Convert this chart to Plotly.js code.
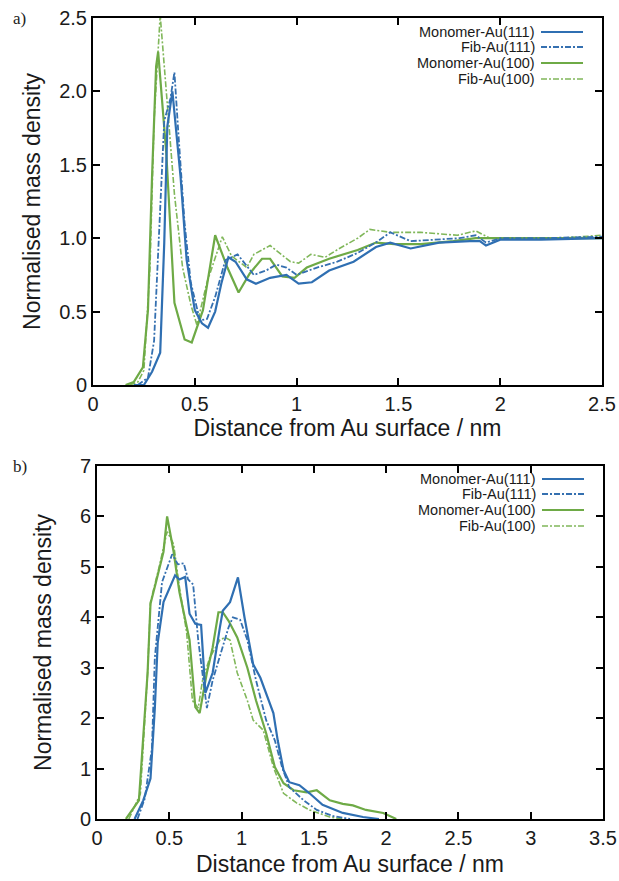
<!DOCTYPE html>
<html>
<head>
<meta charset="utf-8">
<script src="https://cdn.plot.ly/plotly-3.0.1.min.js"></script>
<style>
html,body{margin:0;padding:0;background:#fff;}
#chart{width:619px;height:881px;}
</style>
</head>
<body>
<div id="chart"></div>
<script>
// ---------- Series names ----------
const seriesNames = ["Monomer-Au(111)", "Fib-Au(111)", "Monomer-Au(100)", "Fib-Au(100)"];

// ---------- Panel a ----------
const aMono111X = [0.20, 0.25, 0.29, 0.33, 0.35, 0.365, 0.39, 0.43, 0.46, 0.50, 0.535, 0.565, 0.60, 0.63, 0.665, 0.70, 0.755, 0.80, 0.87, 0.95, 1.01, 1.075, 1.16, 1.28, 1.39, 1.46, 1.56, 1.70, 1.85, 1.90, 1.93, 2.0, 2.2, 2.5];
const aMono111Y = [0, 0, 0.09, 0.22, 0.97, 1.76, 2.0, 1.42, 0.85, 0.51, 0.42, 0.39, 0.50, 0.69, 0.87, 0.84, 0.72, 0.69, 0.73, 0.75, 0.69, 0.70, 0.78, 0.84, 0.94, 0.97, 0.93, 0.97, 0.98, 0.98, 0.95, 0.99, 0.99, 1.0];

const aFib111X = [0.22, 0.27, 0.30, 0.33, 0.35, 0.38, 0.40, 0.42, 0.45, 0.48, 0.525, 0.56, 0.60, 0.65, 0.71, 0.79, 0.85, 0.90, 0.95, 1.0, 1.1, 1.2, 1.3, 1.4, 1.46, 1.56, 1.7, 1.8, 1.88, 1.93, 2.0, 2.2, 2.5];
const aFib111Y = [0, 0.05, 0.3, 1.2, 1.8, 1.95, 2.13, 1.7, 1.1, 0.7, 0.44, 0.45, 0.6, 0.85, 0.89, 0.75, 0.78, 0.82, 0.80, 0.75, 0.80, 0.84, 0.90, 0.98, 1.04, 0.98, 0.99, 1.0, 1.02, 0.97, 1.0, 1.0, 1.01];

const aMono100X = [0.16, 0.20, 0.245, 0.27, 0.29, 0.31, 0.32, 0.36, 0.40, 0.45, 0.485, 0.54, 0.60, 0.66, 0.715, 0.77, 0.83, 0.87, 0.93, 0.99, 1.05, 1.16, 1.30, 1.39, 1.48, 1.61, 1.77, 1.88, 2.1, 2.5];
const aMono100Y = [0, 0.02, 0.12, 0.51, 1.42, 2.17, 2.27, 1.58, 0.56, 0.31, 0.29, 0.51, 1.02, 0.80, 0.63, 0.76, 0.86, 0.86, 0.74, 0.73, 0.80, 0.86, 0.92, 0.97, 0.96, 0.96, 0.98, 1.0, 1.0, 1.0];

const aFib100X = [0.18, 0.22, 0.25, 0.28, 0.30, 0.33, 0.36, 0.40, 0.44, 0.48, 0.51, 0.56, 0.635, 0.68, 0.755, 0.79, 0.87, 0.93, 0.97, 1.01, 1.07, 1.14, 1.21, 1.30, 1.36, 1.46, 1.61, 1.79, 1.88, 1.95, 2.29, 2.5];
const aFib100Y = [0, 0.02, 0.1, 0.8, 1.8, 2.52, 2.0, 1.3, 0.8, 0.55, 0.41, 0.70, 1.01, 0.88, 0.80, 0.89, 0.95, 0.88, 0.84, 0.83, 0.89, 0.87, 0.93, 1.0, 1.06, 1.04, 1.04, 1.02, 1.05, 1.0, 1.0, 1.02];

// ---------- Panel b ----------
const bMono111X = [0.26, 0.32, 0.37, 0.40, 0.42, 0.46, 0.54, 0.57, 0.61, 0.64, 0.68, 0.72, 0.75, 0.80, 0.85, 0.87, 0.92, 0.975, 1.02, 1.08, 1.13, 1.17, 1.22, 1.25, 1.29, 1.33, 1.40, 1.47, 1.56, 1.70, 1.84, 1.95];
const bMono111Y = [0, 0.37, 0.80, 2.2, 3.5, 4.3, 4.83, 4.75, 4.8, 4.07, 3.87, 3.85, 2.5, 2.9, 3.8, 4.13, 4.3, 4.79, 4.0, 3.07, 2.8, 2.5, 2.1, 1.56, 0.97, 0.73, 0.67, 0.51, 0.28, 0.12, 0.04, 0];

const bFib111X = [0.28, 0.33, 0.38, 0.40, 0.45, 0.52, 0.56, 0.60, 0.63, 0.665, 0.70, 0.76, 0.80, 0.86, 0.91, 0.94, 0.99, 1.04, 1.10, 1.17, 1.23, 1.28, 1.33, 1.43, 1.52, 1.63, 1.75];
const bFib111Y = [0, 0.4, 1.4, 3.2, 4.7, 5.25, 5.05, 5.07, 4.75, 4.65, 3.55, 2.2, 2.75, 3.35, 3.8, 4.0, 3.95, 3.55, 2.75, 1.96, 1.56, 1.03, 0.63, 0.37, 0.18, 0.06, 0];

const bMono100X = [0.20, 0.29, 0.35, 0.37, 0.41, 0.46, 0.485, 0.53, 0.57, 0.62, 0.64, 0.68, 0.71, 0.76, 0.80, 0.84, 0.87, 0.91, 0.97, 1.04, 1.10, 1.17, 1.23, 1.29, 1.36, 1.45, 1.52, 1.61, 1.70, 1.77, 1.86, 1.98, 2.07];
const bMono100Y = [0, 0.37, 2.9, 4.27, 4.72, 5.3, 6.0, 5.3, 4.5, 3.8, 3.55, 2.22, 2.1, 2.9, 3.4, 4.1, 4.1, 3.93, 3.6, 3.0, 2.35, 1.7, 1.03, 0.71, 0.57, 0.53, 0.57, 0.37, 0.30, 0.27, 0.18, 0.12, 0];

const bFib100X = [0.22, 0.30, 0.35, 0.37, 0.43, 0.485, 0.53, 0.57, 0.62, 0.66, 0.70, 0.73, 0.78, 0.85, 0.885, 0.92, 0.97, 1.04, 1.08, 1.15, 1.22, 1.29, 1.38, 1.47, 1.61, 1.70];
const bFib100Y = [0, 0.5, 2.9, 4.3, 5.0, 5.7, 5.45, 4.6, 3.7, 2.35, 2.2, 2.75, 3.2, 3.55, 3.6, 3.55, 2.9, 2.35, 1.96, 1.76, 1.03, 0.51, 0.32, 0.18, 0.04, 0];

// ---------- Tick labels ----------
const aXTickVals = [0, 0.5, 1, 1.5, 2, 2.5];
const aXTickText = ["0", "0.5", "1", "1.5", "2", "2.5"];
const aYTickVals = [0, 0.5, 1, 1.5, 2, 2.5];
const aYTickText = ["0", "0.5", "1.0", "1.5", "2.0", "2.5"];
const bXTickVals = [0, 0.5, 1, 1.5, 2, 2.5, 3, 3.5];
const bXTickText = ["0", "0.5", "1", "1.5", "2", "2.5", "3", "3.5"];
const bYTickVals = [0, 1, 2, 3, 4, 5, 6, 7];
const bYTickText = ["0", "1", "2", "3", "4", "5", "6", "7"];

const xTitle = "Distance from Au surface / nm";
const yTitle = "Normalised mass density";

// ---------- Styles ----------
const BLUE = "#2f6fb2";
const BLUE_D = "#3570b0";
const GREEN = "#6eaa46";
const GREEN_L = "#80b75a";
const styles = [
  {color: BLUE, width: 2.2, dash: "solid"},
  {color: BLUE_D, width: 1.8, dash: "6px,2px,2px,2px"},
  {color: GREEN, width: 2.2, dash: "solid"},
  {color: GREEN_L, width: 1.6, dash: "6px,2px,2px,2px"}
];

const aSets = [[aMono111X, aMono111Y], [aFib111X, aFib111Y], [aMono100X, aMono100Y], [aFib100X, aFib100Y]];
const bSets = [[bMono111X, bMono111Y], [bFib111X, bFib111Y], [bMono100X, bMono100Y], [bFib100X, bFib100Y]];

const traces = [];
const order = [3, 2, 1, 0];
order.forEach(i => {
  traces.push({x: aSets[i][0], y: aSets[i][1], xaxis: "x", yaxis: "y", mode: "lines",
    name: seriesNames[i], line: styles[i], showlegend: false, hoverinfo: "skip"});
});
order.forEach(i => {
  traces.push({x: bSets[i][0], y: bSets[i][1], xaxis: "x2", yaxis: "y2", mode: "lines",
    name: seriesNames[i], line: styles[i], showlegend: false, hoverinfo: "skip"});
});

const W = 619, H = 881;
const px = v => v / W;
const py = v => 1 - v / H;

const tickFont = {family: "Liberation Sans, Arial, sans-serif", size: 20, color: "#1a1a1a"};
const titleFont = {family: "Liberation Sans, Arial, sans-serif", size: 23, color: "#1a1a1a"};

function axisBase() {
  return {
    showline: true, linecolor: "#000", linewidth: 2, mirror: "ticks",
    ticks: "inside", ticklen: 7, tickwidth: 2, tickcolor: "#000",
    showgrid: false, zeroline: false, tickfont: tickFont, tickmode: "array",
    fixedrange: true
  };
}

const layout = {
  width: W, height: H,
  margin: {l: 0, r: 0, t: 0, b: 0},
  paper_bgcolor: "#fff", plot_bgcolor: "#fff",
  showlegend: false,
  xaxis: Object.assign(axisBase(), {domain: [px(93), px(602)], range: [0, 2.5], anchor: "y",
    tickvals: aXTickVals, ticktext: aXTickText,
    title: {text: xTitle, font: titleFont, standoff: 5}}),
  yaxis: Object.assign(axisBase(), {domain: [py(385), py(18)], range: [0, 2.5], anchor: "x",
    tickvals: aYTickVals, ticktext: aYTickText,
    title: {text: yTitle, font: titleFont, standoff: 12}}),
  xaxis2: Object.assign(axisBase(), {domain: [px(97), px(603)], range: [0, 3.5], anchor: "y2",
    tickvals: bXTickVals, ticktext: bXTickText,
    title: {text: xTitle, font: titleFont, standoff: 8}}),
  yaxis2: Object.assign(axisBase(), {domain: [py(819), py(466)], range: [0, 7], anchor: "x2",
    tickvals: bYTickVals, ticktext: bYTickText,
    title: {text: yTitle, font: titleFont, standoff: 22}}),
  annotations: [],
  shapes: []
};

// panel labels
layout.annotations.push({xref: "paper", yref: "paper", x: px(11), y: py(18), xanchor: "left", yanchor: "middle",
  text: "a)", showarrow: false, font: {family: "Liberation Serif, Times New Roman, serif", size: 17, color: "#222"}});
layout.annotations.push({xref: "paper", yref: "paper", x: px(11), y: py(466), xanchor: "left", yanchor: "middle",
  text: "b)", showarrow: false, font: {family: "Liberation Serif, Times New Roman, serif", size: 17, color: "#222"}});

// custom legends (text on the left, line sample on the right)
const legendFont = {family: "Liberation Sans, Arial, sans-serif", size: 14.5, color: "#1a1a1a"};
function addLegend(textRight, lineX0, lineX1, rows) {
  seriesNames.forEach((nm, i) => {
    layout.annotations.push({xref: "paper", yref: "paper", x: px(textRight), y: py(rows[i]),
      xanchor: "right", yanchor: "middle", text: nm, showarrow: false, font: legendFont});
    layout.shapes.push({type: "line", xref: "paper", yref: "paper",
      x0: px(lineX0), x1: px(lineX1), y0: py(rows[i]), y1: py(rows[i]),
      line: {color: styles[i].color, width: styles[i].width, dash: styles[i].dash}});
  });
}
addLegend(537, 541, 583, [32, 47, 63, 79]);
addLegend(538, 542, 584, [479, 494, 510, 526]);

Plotly.newPlot("chart", traces, layout, {displayModeBar: false, staticPlot: true});
</script>
</body>
</html>
